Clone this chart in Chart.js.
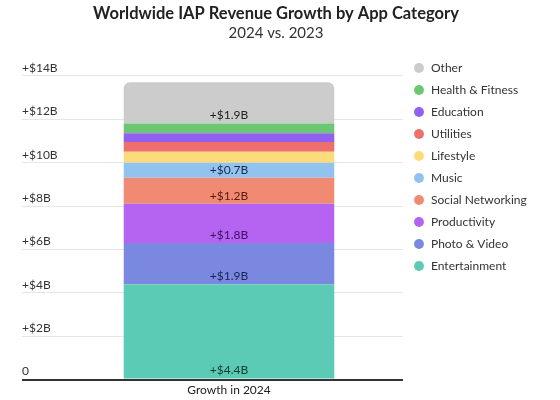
<!DOCTYPE html>
<html><head><meta charset="utf-8">
<script src="https://cdn.jsdelivr.net/npm/chart.js@4"></script>
<style>html,body{margin:0;padding:0;background:#fff}#wrap{width:560px;height:400px;position:relative}</style>
</head><body><div id="wrap"><canvas id="c"></canvas></div>
<script>
const categories = ['Growth in 2024'];
const seriesNames = ['Entertainment','Photo & Video','Productivity','Social Networking','Music','Lifestyle','Utilities','Education','Health & Fitness','Other'];
const seriesValues = [4.4, 1.9, 1.8, 1.2, 0.7, 0.5, 0.45, 0.4, 0.45, 1.9];
const seriesColors = ['#5ccbb5','#7a88e0','#b464f0','#f08a72','#92c2f0','#fcdc7a','#ee6f6c','#9160f0','#6cc772','#cccccc'];
const labelColors = ['#0f3d33','#1c2258','#3d1263','#5c1a10','#1a2c4c','#333','#333','#333','#333','#222'];
const yTickValues = [0, 2, 4, 6, 8, 10, 12, 14];
const yTickLabels = ['0', '+$2B', '+$4B', '+$6B', '+$8B', '+$10B', '+$12B', '+$14B'];

const FONT = 'Lato, "Open Sans", sans-serif';

const valueLabels = {
  id: 'valueLabels',
  afterDatasetsDraw(chart) {
    const ctx = chart.ctx;
    chart.data.datasets.forEach((ds, i) => {
      const meta = chart.getDatasetMeta(i);
      meta.data.forEach((el, j) => {
        const v = ds.data[j];
        if (v < 0.6) return;
        const p = el.getProps(['x', 'base'], true);
        ctx.save();
        ctx.font = '12px ' + FONT;
        ctx.fillStyle = labelColors[i];
        ctx.textAlign = 'center';
        ctx.textBaseline = 'middle';
        ctx.fillText('+$' + v.toFixed(1) + 'B', p.x, p.base - 8);
        ctx.restore();
      });
    });
  }
};

const datasets = seriesNames.map((name, i) => ({
  label: name,
  data: [seriesValues[i]],
  backgroundColor: seriesColors[i],
  borderColor: seriesColors[i],
  borderWidth: 0,
  borderRadius: i === seriesNames.length - 1 ? 6 : 0,
  categoryPercentage: 1,
  barPercentage: 0.605
}));

new Chart(document.getElementById('c'), {
  type: 'bar',
  data: { labels: categories, datasets },
  plugins: [valueLabels],
  options: {
    responsive: true,
    maintainAspectRatio: false,
    animation: false,
    layout: { padding: { left: 22, right: 30, top: 4, bottom: 0 } },
    plugins: {
      title: {
        display: true,
        text: 'Worldwide IAP Revenue Growth by App Category',
        font: { family: FONT, size: 16.5, weight: 'bold' },
        color: '#222',
        padding: { top: 0, bottom: 0 }
      },
      subtitle: {
        display: true,
        text: '2024 vs. 2023',
        font: { family: FONT, size: 15 },
        color: '#333',
        padding: { top: 0, bottom: 10.2 }
      },
      legend: {
        position: 'right',
        align: 'start',
        fullSize: false,
        reverse: true,
        labels: {
          usePointStyle: true,
          pointStyle: 'circle',
          boxWidth: 12,
          boxHeight: 7,
          padding: 10,
          color: '#333',
          font: { family: FONT, size: 12 }
        }
      },
      tooltip: { enabled: false }
    },
    scales: {
      x: {
        stacked: true,
        grid: { display: false, drawTicks: false },
        border: { display: false },
        ticks: { color: '#222', padding: 3, font: { family: FONT, size: 12 } }
      },
      y: {
        stacked: true,
        min: 0,
        max: 15.1,
        afterBuildTicks: (s) => { s.ticks = yTickValues.map(v => ({ value: v })); },
        afterFit: (s) => { s.width = 33; },
        border: { display: false },
        grid: {
          color: (c) => (c.tick && c.tick.value === 0) ? '#333' : '#e6e6e6',
          lineWidth: (c) => (c.tick && c.tick.value === 0) ? 2 : 1,
          tickLength: 33,
          drawTicks: true
        },
        ticks: {
          mirror: true,
          crossAlign: 'near',
          labelOffset: -8,
          padding: -33,
          color: '#333',
          font: { family: FONT, size: 12 },
          callback: (v) => { const k = yTickValues.indexOf(v); return k >= 0 ? yTickLabels[k] : ''; }
        }
      }
    }
  }
});
</script>
</body></html>
